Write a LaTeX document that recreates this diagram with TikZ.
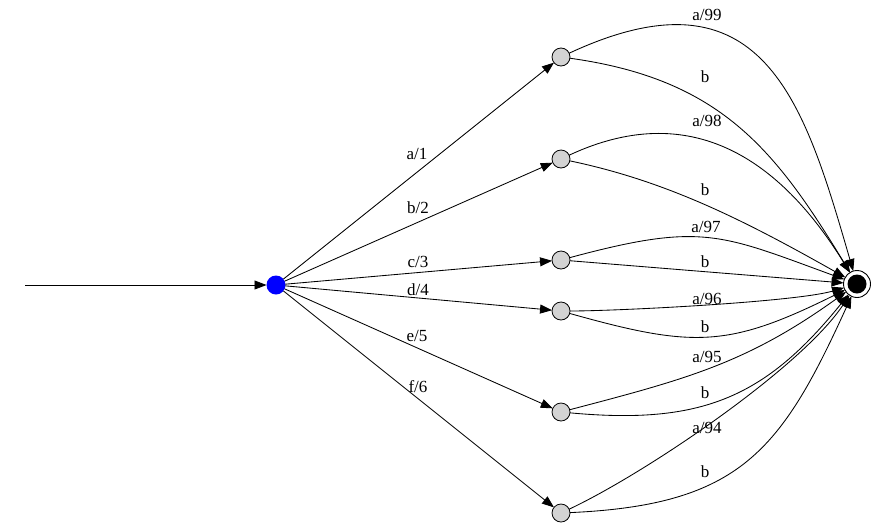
\documentclass[tikz,border=0pt]{standalone}
\usepackage{fontspec}
\setmainfont{Liberation Serif}
\usetikzlibrary{arrows.meta}
\begin{document}
\begin{tikzpicture}[x=1pt,y=-1pt,
  edge/.style={line width=0.85pt,-{Triangle[length=12pt,width=9pt]}},
  midst/.style={circle,draw,line width=0.8pt,fill={rgb,255:red,211;green,211;blue,211},minimum size=18pt,inner sep=0pt,outer sep=0pt},
  startst/.style={circle,fill={rgb,255:red,0;green,0;blue,255},minimum size=19pt,inner sep=0pt,outer sep=0pt},
  finst/.style={circle,draw,line width=0.9pt,fill=white,minimum size=27pt,inner sep=0pt,outer sep=0pt},
  fincore/.style={circle,fill=black,minimum size=19pt,inner sep=0pt,outer sep=0pt},
  lbl/.style={anchor=base,inner sep=0pt,font=\fontsize{17}{20}\selectfont}]
\useasboundingbox (0,0) rectangle (877,528);
\node[startst] (s) at (276,285) {};
\node[midst] (q1) at (561,57) {};
\node[midst] (q2) at (561,159) {};
\node[midst] (q3) at (561,260) {};
\node[midst] (q4) at (561,311) {};
\node[midst] (q5) at (561,412) {};
\node[midst] (q6) at (561,513) {};
\node[finst] (f) at (857,284) {};
\node[fincore] (fc) at (f.center) {};
\coordinate (init) at (25,285);
\draw[edge] (init) -- (s);
% start edges
\draw[edge] (s) -- (q1);
\draw[edge] (s) -- (q2);
\draw[edge] (s) -- (q3);
\draw[edge] (s) -- (q4);
\draw[edge] (s) -- (q5);
\draw[edge] (s) -- (q6);
\node[lbl] at (417,159) {a/1};
\node[lbl] at (418,213) {b/2};
\node[lbl] at (418,267) {c/3};
\node[lbl] at (418,295) {d/4};
\node[lbl] at (417,341) {e/5};
\node[lbl] at (418,392) {f/6};
% to final
\draw[edge] (q1) .. controls (763,-37) and (804,101) .. (f);
\draw[edge] (q1) .. controls (720,79) and (775,149) .. (f);
\draw[edge] (q2) .. controls (698,95) and (786,169) .. (f);
\draw[edge] (q2) .. controls (666,181) and (742,219) .. (f);
\draw[edge] (q3) .. controls (702,222) and (720,234) .. (f);
\draw[edge] (q3) -- (f);
\draw[edge] (q4) .. controls (618,311) and (795,302) .. (f);
\draw[edge] (q4) .. controls (693,348) and (728,348) .. (f);
\draw[edge] (q5) .. controls (687,379) and (747,363) .. (f);
\draw[edge] (q5) .. controls (701,425) and (765,398) .. (f);
\draw[edge] (q6) .. controls (646,473) and (801,368) .. (f);
\draw[edge] (q6) .. controls (740,505) and (781,451) .. (f);
\node[lbl] at (707,20) {a/99};
\node[lbl] at (705,82) {b};
\node[lbl] at (707,126) {a/98};
\node[lbl] at (705,195) {b};
\node[lbl] at (706,232) {a/97};
\node[lbl] at (705,267) {b};
\node[lbl] at (707,304) {a/96};
\node[lbl] at (705,332) {b};
\node[lbl] at (707,362) {a/95};
\node[lbl] at (705,398) {b};
\node[lbl] at (707,433) {a/94};
\node[lbl] at (705,477) {b};
\end{tikzpicture}
\end{document}
